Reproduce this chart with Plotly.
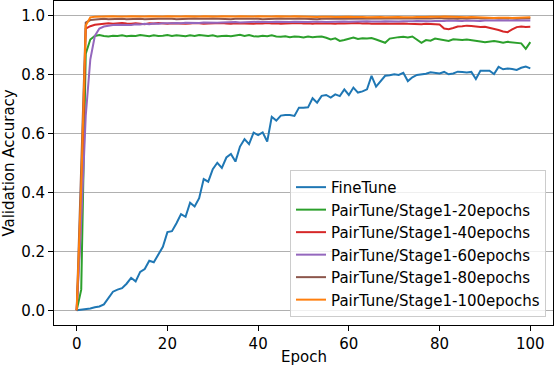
import plotly.graph_objects as go

epochs = list(range(0, 101))

finetune = [0.0, 0.002, 0.003, 0.006, 0.010, 0.013, 0.020, 0.040, 0.063, 0.070,
            0.075, 0.090, 0.110, 0.098, 0.130, 0.140, 0.168, 0.163, 0.190, 0.215,
            0.265, 0.268, 0.295, 0.326, 0.317, 0.365, 0.352, 0.380, 0.445, 0.436,
            0.478, 0.500, 0.483, 0.518, 0.530, 0.504, 0.555, 0.580, 0.563, 0.602,
            0.594, 0.603, 0.572, 0.656, 0.643, 0.660, 0.662, 0.662, 0.659, 0.687,
            0.687, 0.688, 0.719, 0.704, 0.727, 0.730, 0.721, 0.732, 0.726, 0.749,
            0.730, 0.755, 0.738, 0.742, 0.749, 0.795, 0.758, 0.775, 0.795, 0.797,
            0.800, 0.798, 0.805, 0.777, 0.790, 0.798, 0.800, 0.802, 0.807, 0.805,
            0.803, 0.808, 0.800, 0.803, 0.809, 0.808, 0.806, 0.808, 0.784, 0.812,
            0.812, 0.812, 0.801, 0.825, 0.817, 0.820, 0.818, 0.815, 0.822, 0.826,
            0.820]

stage20 = [0.0, 0.07, 0.87, 0.918, 0.930, 0.933, 0.930, 0.928, 0.931, 0.930,
           0.932, 0.929, 0.931, 0.930, 0.933, 0.931, 0.929, 0.932, 0.930, 0.931,
           0.933, 0.930, 0.932, 0.931, 0.929, 0.932, 0.930, 0.933, 0.931, 0.930,
           0.932, 0.928, 0.930, 0.931, 0.929, 0.932, 0.934, 0.930, 0.933, 0.929,
           0.928, 0.931, 0.929, 0.932, 0.928, 0.927, 0.929, 0.926, 0.928, 0.927,
           0.925, 0.928, 0.926, 0.927, 0.928, 0.924, 0.918, 0.922, 0.913, 0.916,
           0.921, 0.925, 0.920, 0.922, 0.921, 0.923, 0.918, 0.912, 0.907, 0.921,
           0.924, 0.926, 0.927, 0.925, 0.928, 0.918, 0.907, 0.916, 0.914, 0.921,
           0.918, 0.916, 0.913, 0.919, 0.917, 0.916, 0.918, 0.915, 0.913, 0.911,
           0.909, 0.912, 0.913, 0.910, 0.907, 0.910, 0.909, 0.908, 0.905, 0.886,
           0.909]

stage40 = [0.0, 0.33, 0.955, 0.963, 0.968, 0.970, 0.972, 0.973, 0.971, 0.972,
           0.974, 0.972, 0.971, 0.973, 0.972, 0.970, 0.973, 0.972, 0.974, 0.972,
           0.971, 0.973, 0.972, 0.973, 0.971, 0.972, 0.974, 0.973, 0.971, 0.972,
           0.973, 0.972, 0.974, 0.972, 0.971, 0.973, 0.972, 0.973, 0.972, 0.971,
           0.973, 0.972, 0.974, 0.972, 0.973, 0.971, 0.972, 0.973, 0.972, 0.974,
           0.972, 0.973, 0.971, 0.973, 0.972, 0.973, 0.972, 0.971, 0.973, 0.972,
           0.973, 0.972, 0.974, 0.972, 0.973, 0.971, 0.972, 0.973, 0.972, 0.971,
           0.972, 0.973, 0.972, 0.971, 0.970, 0.971, 0.970, 0.971, 0.970, 0.971,
           0.969, 0.955, 0.953, 0.957, 0.962, 0.963, 0.965, 0.964, 0.962, 0.960,
           0.961, 0.958, 0.955, 0.950, 0.945, 0.943, 0.952, 0.960, 0.962, 0.960,
           0.961]

stage60 = [0.0, 0.30, 0.66, 0.85, 0.93, 0.955, 0.962, 0.965, 0.967, 0.968,
           0.968, 0.969, 0.967, 0.970, 0.969, 0.971, 0.970, 0.972, 0.971, 0.973,
           0.972, 0.973, 0.974, 0.973, 0.975, 0.974, 0.975, 0.974, 0.976, 0.975,
           0.976, 0.975, 0.976, 0.977, 0.976, 0.977, 0.976, 0.977, 0.976, 0.977,
           0.978, 0.977, 0.976, 0.977, 0.978, 0.977, 0.978, 0.977, 0.978, 0.977,
           0.978, 0.977, 0.978, 0.979, 0.978, 0.977, 0.978, 0.979, 0.978, 0.979,
           0.978, 0.979, 0.978, 0.979, 0.980, 0.979, 0.978, 0.979, 0.980, 0.979,
           0.980, 0.979, 0.980, 0.979, 0.980, 0.981, 0.980, 0.981, 0.980, 0.981,
           0.980, 0.981, 0.982, 0.981, 0.980, 0.981, 0.982, 0.981, 0.982, 0.981,
           0.982, 0.981, 0.982, 0.983, 0.982, 0.981, 0.982, 0.983, 0.982, 0.983,
           0.982]

stage80 = [0.0, 0.48, 0.975, 0.984, 0.986, 0.987, 0.988, 0.987, 0.988, 0.989,
           0.988, 0.987, 0.988, 0.989, 0.988, 0.987, 0.988, 0.989, 0.988, 0.988,
           0.989, 0.988, 0.987, 0.988, 0.989, 0.988, 0.989, 0.988, 0.987, 0.988,
           0.989, 0.988, 0.989, 0.988, 0.987, 0.988, 0.989, 0.988, 0.988, 0.989,
           0.988, 0.987, 0.988, 0.989, 0.988, 0.989, 0.988, 0.987, 0.988, 0.989,
           0.988, 0.989, 0.988, 0.987, 0.988, 0.989, 0.988, 0.989, 0.988, 0.988,
           0.989, 0.988, 0.987, 0.988, 0.989, 0.988, 0.989, 0.988, 0.987, 0.988,
           0.989, 0.990, 0.989, 0.988, 0.989, 0.990, 0.989, 0.988, 0.989, 0.990,
           0.991, 0.989, 0.990, 0.989, 0.988, 0.990, 0.989, 0.990, 0.991, 0.989,
           0.990, 0.989, 0.990, 0.991, 0.990, 0.989, 0.990, 0.989, 0.990, 0.989,
           0.990]

stage100 = [0.0, 0.42, 0.965, 0.993, 0.995, 0.996, 0.995, 0.996, 0.997, 0.996,
            0.995, 0.996, 0.997, 0.996, 0.995, 0.996, 0.997, 0.996, 0.995, 0.996,
            0.997, 0.996, 0.995, 0.996, 0.997, 0.996, 0.995, 0.996, 0.997, 0.996,
            0.995, 0.996, 0.997, 0.996, 0.995, 0.996, 0.997, 0.996, 0.995, 0.996,
            0.997, 0.996, 0.995, 0.996, 0.997, 0.996, 0.995, 0.996, 0.997, 0.996,
            0.995, 0.996, 0.995, 0.994, 0.995, 0.996, 0.995, 0.994, 0.995, 0.994,
            0.995, 0.994, 0.995, 0.994, 0.993, 0.994, 0.995, 0.994, 0.993, 0.994,
            0.993, 0.994, 0.993, 0.992, 0.993, 0.994, 0.993, 0.994, 0.995, 0.994,
            0.995, 0.996, 0.995, 0.994, 0.995, 0.994, 0.993, 0.994, 0.993, 0.992,
            0.993, 0.992, 0.991, 0.992, 0.993, 0.992, 0.991, 0.992, 0.993, 0.992,
            0.993]

series_names = ["FineTune", "PairTune/Stage1-20epochs", "PairTune/Stage1-40epochs",
                "PairTune/Stage1-60epochs", "PairTune/Stage1-80epochs",
                "PairTune/Stage1-100epochs"]
series_values = [finetune, stage20, stage40, stage60, stage80, stage100]
series_colors = ["#1f77b4", "#2ca02c", "#d62728", "#9467bd", "#8c564b", "#ff7f0e"]

x_ticks = [0, 20, 40, 60, 80, 100]
y_ticks = [0.0, 0.2, 0.4, 0.6, 0.8, 1.0]
x_title = "Epoch"
y_title = "Validation Accuracy"

FONT = "DejaVu Sans"
FS = 15

fig = go.Figure()
for name, vals, col in zip(series_names, series_values, series_colors):
    fig.add_trace(go.Scatter(x=epochs, y=vals, mode="lines", name=name,
                             line=dict(color=col, width=2)))

fig.update_layout(
    width=554, height=368,
    margin=dict(l=54, r=1, t=1, b=43, autoexpand=False),
    paper_bgcolor="white", plot_bgcolor="white",
    font=dict(family=FONT, size=FS, color="black"),
    showlegend=True,
    legend=dict(x=0.986, xanchor="right", y=0.025, yanchor="bottom",
                bgcolor="rgba(255,255,255,0.8)", bordercolor="#cccccc",
                borderwidth=1, font=dict(family=FONT, size=FS, color="black"),
                tracegroupgap=0),
    annotations=[
        dict(text=x_title, xref="paper", yref="paper", x=0.5, y=-0.0988,
             yanchor="middle", xanchor="center", showarrow=False,
             font=dict(family=FONT, size=FS, color="black")),
        dict(text=y_title, xref="paper", yref="paper", x=-0.091, y=0.5,
             xanchor="center", yanchor="middle", textangle=-90, showarrow=False,
             font=dict(family=FONT, size=FS, color="black")),
    ],
)
fig.update_xaxes(range=[-5, 105], tickvals=x_ticks, ticktext=[str(v) for v in x_ticks],
                 showgrid=False, zeroline=False, showline=True, mirror=True,
                 linecolor="black", linewidth=1, ticks="outside", ticklen=5,
                 tickcolor="black", automargin=False,
                 tickfont=dict(family=FONT, size=FS, color="black"))
fig.update_yaxes(range=[-0.0499, 1.0485], tickvals=y_ticks,
                 ticktext=[f"{v:.1f}" for v in y_ticks],
                 showgrid=True, gridcolor="#b0b0b0", gridwidth=1, zeroline=False,
                 showline=True, mirror=True, linecolor="black", linewidth=1,
                 ticks="outside", ticklen=5, tickcolor="black", automargin=False,
                 tickfont=dict(family=FONT, size=FS, color="black"))

fig.write_html("out.html", config={"displayModeBar": False},
               post_script="document.body.style.margin='0';")
